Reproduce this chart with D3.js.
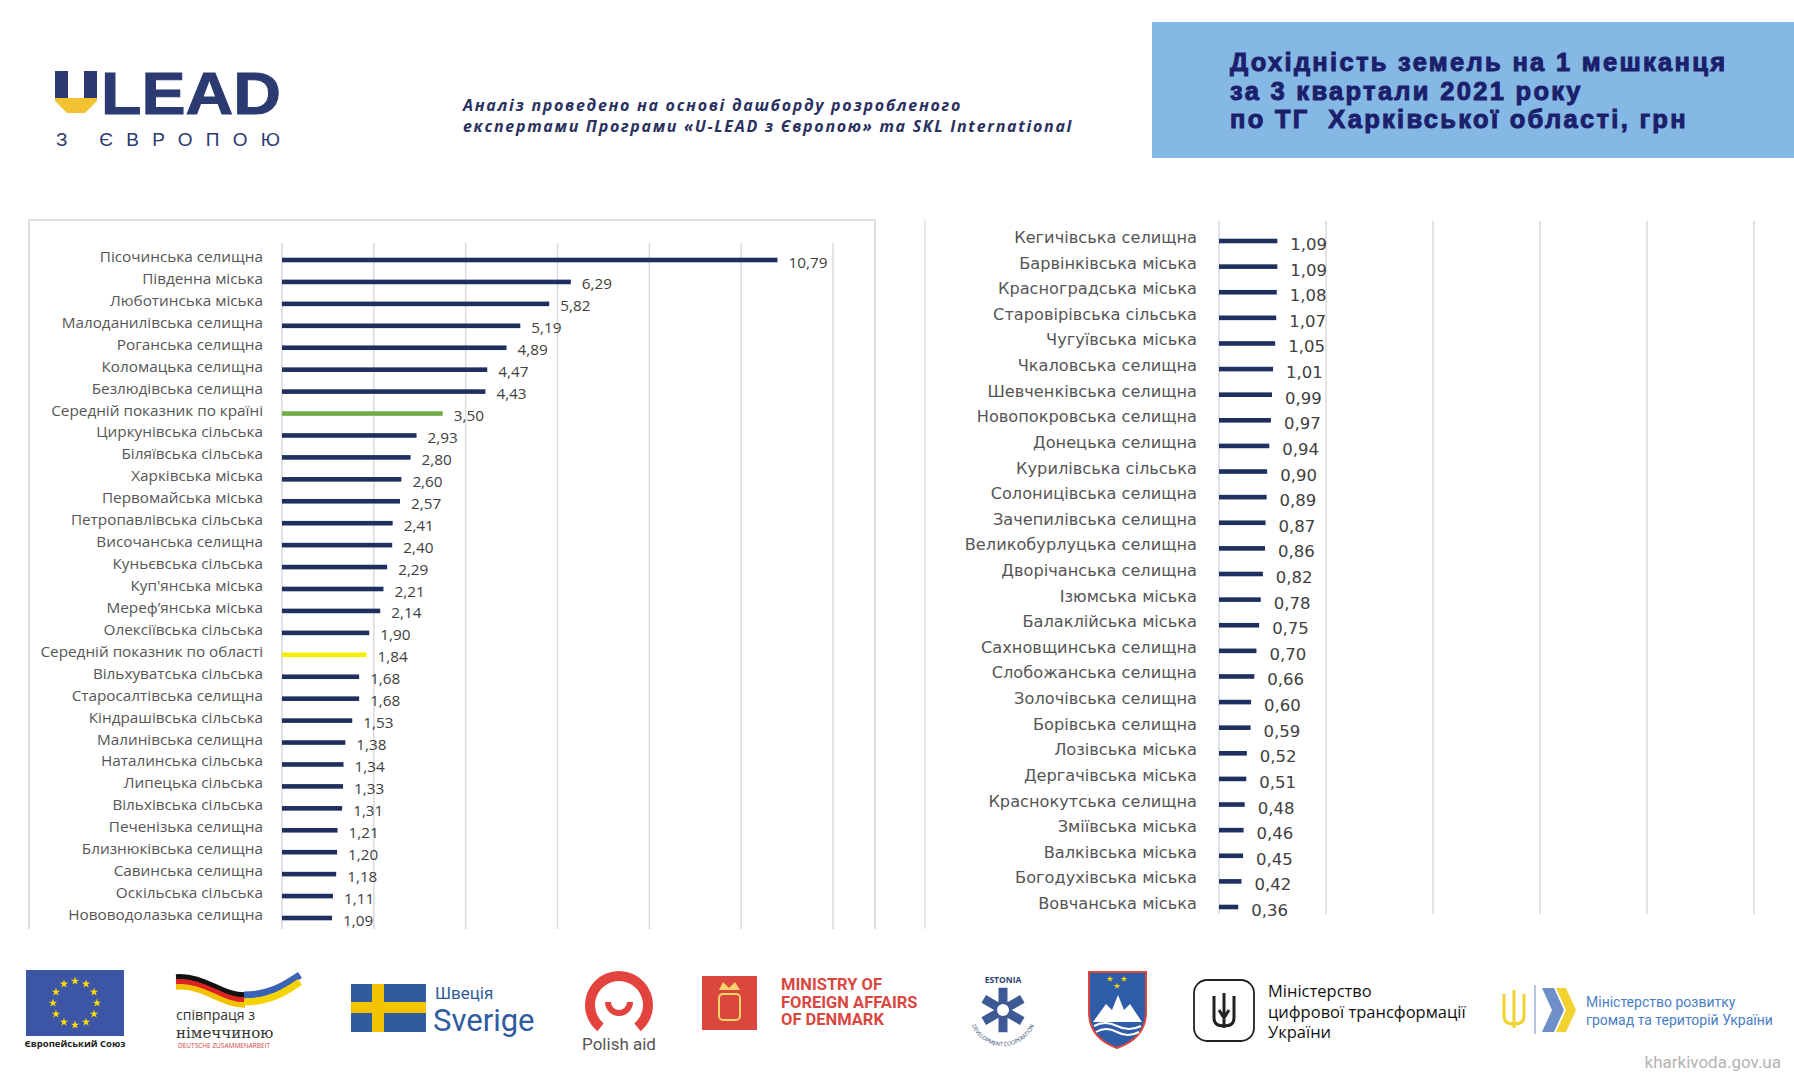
<!DOCTYPE html>
<html><head><meta charset="utf-8">
<script src="https://cdn.jsdelivr.net/npm/d3@7"></script>
<style>body{margin:0;background:#fff} svg{display:block}</style>
</head><body>
<svg id="c" width="1794" height="1080"></svg>
<script>
// ---------------- DATA ----------------
const leftCategories = [
  "Пісочинська селищна","Південна міська","Люботинська міська","Малоданилівська селищна",
  "Роганська селищна","Коломацька селищна","Безлюдівська селищна","Середній показник по країні",
  "Циркунівська сільська","Біляївська сільська","Харківська міська","Первомайська міська",
  "Петропавлівська сільська","Височанська селищна","Куньєвська сільська","Куп'янська міська",
  "Мереф’янська міська","Олексіївська сільська","Середній показник по області","Вільхуватська сільська",
  "Старосалтівська селищна","Кіндрашівська сільська","Малинівська селищна","Наталинська сільська",
  "Липецька сільська","Вільхівська сільська","Печенізька селищна","Близнюківська селищна",
  "Савинська селищна","Оскільська сільська","Нововодолазька селищна"
];
const leftValues = [10.79,6.29,5.82,5.19,4.89,4.47,4.43,3.50,2.93,2.80,2.60,2.57,2.41,2.40,2.29,2.21,2.14,1.90,1.84,1.68,1.68,1.53,1.38,1.34,1.33,1.31,1.21,1.20,1.18,1.11,1.09];

const rightCategories = [
  "Кегичівська селищна","Барвінківська міська","Красноградська міська","Старовірівська сільська",
  "Чугуївська міська","Чкаловська селищна","Шевченківська селищна","Новопокровська селищна",
  "Донецька селищна","Курилівська сільська","Солоницівська селищна","Зачепилівська селищна",
  "Великобурлуцька селищна","Дворічанська селищна","Ізюмська міська","Балаклійська міська",
  "Сахновщинська селищна","Слобожанська селищна","Золочівська селищна","Борівська селищна",
  "Лозівська міська","Дергачівська міська","Краснокутська селищна","Зміївська міська",
  "Валківська міська","Богодухівська міська","Вовчанська міська"
];
const rightValues = [1.09,1.09,1.08,1.07,1.05,1.01,0.99,0.97,0.94,0.90,0.89,0.87,0.86,0.82,0.78,0.75,0.70,0.66,0.60,0.59,0.52,0.51,0.48,0.46,0.45,0.42,0.36];

const leftTicks = [0,2,4,6,8,10,12];
const rightTicks = [0,2,4,6,8,10];
const highlightCategories = ["Середній показник по країні","Середній показник по області"];
const highlightColors = ["#70ad47","#f4ef00"];

const titleLines = ["Дохідність земель на 1 мешканця","за 3 квартали 2021 року","по ТГ  Харківської області, грн"];
const subtitleLines = ["Аналіз проведено на основі дашборду розробленого","експертами Програми «U-LEAD з Європою» та SKL International"];

// ---------------- DRAW ----------------
const svg = d3.select("#c");
const NAVY = "#1f2f5f";
const fmt = v => d3.format(".2f")(v).replace(".", ",");
const colorOf = c => { const i = highlightCategories.indexOf(c); return i >= 0 ? highlightColors[i] : NAVY; };

// Header: logo
const logo = svg.append("g");
logo.append("rect").attr("x",55).attr("y",71).attr("width",13).attr("height",27).attr("fill","#2b3a70");
logo.append("rect").attr("x",84).attr("y",71).attr("width",13).attr("height",27).attr("fill","#2b3a70");
logo.append("path").attr("d","M55,98 H97 V101 L85,113 H67 L55,101 Z").attr("fill","#f2c230");
logo.append("text").attr("x",101).attr("y",114).text("LEAD")
  .attr("font-family","Liberation Sans").attr("font-weight",700).attr("font-size",60)
  .attr("fill","#2b3a70").attr("stroke","#2b3a70").attr("stroke-width",1)
  .attr("textLength",180).attr("lengthAdjust","spacingAndGlyphs");
logo.append("text").attr("x",56).attr("y",146).text("З ЄВРОПОЮ")
  .attr("font-family","Liberation Sans").attr("font-weight",400).attr("font-size",19)
  .attr("fill","#2b3a70").attr("textLength",224).attr("lengthAdjust","spacing");

// subtitle
svg.append("g").selectAll("text").data(subtitleLines).join("text")
  .attr("x",463).attr("y",(d,i)=>111+i*21).text(d=>d)
  .attr("font-family","Open Sans").attr("font-style","italic").attr("font-weight",700)
  .attr("font-size",16).attr("letter-spacing",1.7).attr("fill","#2a3160");

// title box
svg.append("rect").attr("x",1152).attr("y",22).attr("width",642).attr("height",136).attr("fill","#85b8e4");
svg.append("g").selectAll("text").data(titleLines).join("text")
  .attr("x",1230).attr("y",(d,i)=>71+i*28.5).text(d=>d).attr("xml:space","preserve")
  .attr("font-family","Liberation Sans").attr("font-weight",700).attr("font-size",25.5)
  .attr("letter-spacing",2.3).attr("fill","#1c1f6b").attr("stroke","#1c1f6b").attr("stroke-width",1);

// ---------- Left chart ----------
const xL = d3.scaleLinear().domain([0,12]).range([282,833]);
const yL = d3.scalePoint().domain(leftCategories).range([260,918]);
svg.append("path").attr("d","M29,929 V220 H875 V929").attr("fill","none").attr("stroke","#dedede").attr("stroke-width",2);
const gL = svg.append("g");
gL.selectAll("line.grid").data(leftTicks).join("line").attr("class","grid")
  .attr("x1",d=>xL(d)).attr("x2",d=>xL(d)).attr("y1",243).attr("y2",929)
  .attr("stroke",d=>d===0?"#d4d9e4":"#dadada").attr("stroke-width",1.5);
const leftData = leftCategories.map((c,i)=>({c, v:leftValues[i]}));
gL.selectAll("rect.bar").data(leftData).join("rect").attr("class","bar")
  .attr("x",xL(0)).attr("y",d=>yL(d.c)-2.3).attr("width",d=>xL(d.v)-xL(0)).attr("height",4.6)
  .attr("fill",d=>colorOf(d.c));
gL.selectAll("text.lab").data(leftData).join("text").attr("class","lab")
  .attr("x",263).attr("y",d=>yL(d.c)+2).attr("text-anchor","end").text(d=>d.c)
  .attr("font-family","Open Sans").attr("font-size",15.3).attr("fill","#555555");
gL.selectAll("text.val").data(leftData).join("text").attr("class","val")
  .attr("x",d=>xL(d.v)+11).attr("y",d=>yL(d.c)+7.5).text(d=>fmt(d.v))
  .attr("font-family","Open Sans").attr("font-size",15.3).attr("fill","#404040");

// ---------- Right chart ----------
const xR = d3.scaleLinear().domain([0,10]).range([1219,1754]);
const yR = d3.scalePoint().domain(rightCategories).range([241,907]);
svg.append("line").attr("x1",925).attr("x2",925).attr("y1",220).attr("y2",929).attr("stroke","#e2e2e2").attr("stroke-width",1.5);
const gR = svg.append("g");
gR.selectAll("line.grid").data(rightTicks).join("line").attr("class","grid")
  .attr("x1",d=>xR(d)).attr("x2",d=>xR(d)).attr("y1",221).attr("y2",914)
  .attr("stroke",d=>d===0?"#d4d9e4":"#dadada").attr("stroke-width",1.5);
const rightData = rightCategories.map((c,i)=>({c, v:rightValues[i]}));
gR.selectAll("rect.bar").data(rightData).join("rect").attr("class","bar")
  .attr("x",xR(0)).attr("y",d=>yR(d.c)-2.3).attr("width",d=>xR(d.v)-xR(0)).attr("height",4.6)
  .attr("fill",NAVY);
gR.selectAll("text.lab").data(rightData).join("text").attr("class","lab")
  .attr("x",1197).attr("y",d=>yR(d.c)+2).attr("text-anchor","end").text(d=>d.c)
  .attr("font-family","DejaVu Sans").attr("font-size",16.2).attr("fill","#555555");
gR.selectAll("text.val").data(rightData).join("text").attr("class","val")
  .attr("x",d=>xR(d.v)+13).attr("y",d=>yR(d.c)+9).text(d=>fmt(d.v))
  .attr("font-family","DejaVu Sans").attr("font-size",16.5).attr("fill","#404040");

// ---------- Footer logos ----------
const f = svg.append("g");
// EU
f.append("rect").attr("x",26).attr("y",970).attr("width",98).attr("height",66).attr("fill","#3d55a5");
d3.range(12).forEach(i=>{
  const a = i/12*2*Math.PI;
  f.append("path").attr("d",d3.symbol(d3.symbolStar).size(22)())
   .attr("transform",`translate(${75+22*Math.sin(a)},${1003-22*Math.cos(a)})`).attr("fill","#ffdd00");
});
f.append("text").attr("x",75).attr("y",1047).attr("text-anchor","middle").text("Європейський Союз")
  .attr("font-family","Open Sans").attr("font-weight",700).attr("font-size",9.5).attr("fill","#222");
// Germany
[["#111",0],["#d22",5],["#f2c100",10]].forEach(([col,o])=>{
  f.append("path").attr("d",`M176,${977+o} C205,${975+o} 220,${995+o} 245,${995+o}`)
   .attr("fill","none").attr("stroke",col).attr("stroke-width",5.5);
});
[["#3a63b5",0],["#f5d300",7]].forEach(([col,o])=>{
  f.append("path").attr("d",`M244,${995+o} C270,${995+o} 285,${985+o} 300,${975+o}`)
   .attr("fill","none").attr("stroke",col).attr("stroke-width",7);
});
f.append("text").attr("x",176).attr("y",1020).text("співпраця з").attr("font-family","Open Sans").attr("font-size",14).attr("fill","#333");
f.append("text").attr("x",176).attr("y",1038).text("німеччиною").attr("font-family","DejaVu Serif").attr("font-size",15).attr("fill","#333");
f.append("text").attr("x",178).attr("y",1048).text("DEUTSCHE ZUSAMMENARBEIT").attr("font-family","Open Sans").attr("font-size",6.5).attr("fill","#c44");
// Sweden
f.append("rect").attr("x",351).attr("y",984).attr("width",75).attr("height",48).attr("fill","#2f5c9e");
f.append("rect").attr("x",372).attr("y",984).attr("width",12).attr("height",48).attr("fill","#f5c400");
f.append("rect").attr("x",351).attr("y",1002).attr("width",75).attr("height",11).attr("fill","#f5c400");
f.append("text").attr("x",435).attr("y",999).text("Швеція").attr("font-family","Roboto").attr("font-size",17).attr("fill","#2f5c9e");
f.append("text").attr("x",433).attr("y",1031).text("Sverige").attr("font-family","Roboto").attr("font-size",31).attr("fill","#2f5c9e");
// Polish aid
f.append("path").attr("d",d3.arc().innerRadius(24).outerRadius(34).startAngle(-2.45).endAngle(2.45)())
  .attr("transform","translate(619,1005)").attr("fill","#e2433d");
f.append("path").attr("d",d3.arc().innerRadius(8).outerRadius(14).startAngle(Math.PI/2).endAngle(3*Math.PI/2)())
  .attr("transform","translate(619,1002)").attr("fill","#e2433d");
f.append("text").attr("x",619).attr("y",1050).attr("text-anchor","middle").text("Polish aid")
  .attr("font-family","Roboto").attr("font-size",17).attr("fill","#555");
// Denmark
f.append("rect").attr("x",702).attr("y",976).attr("width",55).attr("height",54).attr("fill","#d9473f");
f.append("rect").attr("x",719).attr("y",994).attr("width",21).attr("height",26).attr("rx",4).attr("fill","none").attr("stroke","#f3d36a").attr("stroke-width",2);
f.append("path").attr("d","M719,990 L723,982 L729,988 L735,982 L740,990 Z").attr("fill","#f3d36a");
["MINISTRY OF","FOREIGN AFFAIRS","OF DENMARK"].forEach((t,i)=>{
  f.append("text").attr("x",781).attr("y",990+i*17.5).text(t).attr("font-family","Roboto").attr("font-weight",700)
   .attr("font-size",16.5).attr("fill","#d9473f");
});
// Estonia
f.append("path").attr("id","estArc").attr("d","M969,1012 A34,34 0 0 0 1037,1012").attr("fill","none");
f.append("text").attr("x",1003).attr("y",983).attr("text-anchor","middle").text("ESTONIA")
  .attr("font-family","Open Sans").attr("font-weight",700).attr("font-size",8.5).attr("fill","#2d3f70");
f.append("text").append("textPath").attr("href","#estArc").attr("startOffset","50%").attr("text-anchor","middle")
  .text("DEVELOPMENT COOPERATION").attr("font-family","Open Sans").attr("font-size",5.5).attr("fill","#2d3f70");
f.append("path").attr("d",d3.symbol(d3.symbolAsterisk).size(1400)()).attr("transform","translate(1003,1010)")
  .attr("fill","none").attr("stroke","#3e5a96").attr("stroke-width",9);
f.append("circle").attr("cx",1003).attr("cy",1010).attr("r",6).attr("fill","#fff");
// Slovenia
f.append("path").attr("d","M1089,972 H1146 V1012 Q1146,1038 1117,1048 Q1089,1038 1089,1012 Z")
  .attr("fill","#2f5ca8").attr("stroke","#d9473f").attr("stroke-width",2);
f.append("path").attr("d","M1093,1022 L1106,1004 L1112,1010 L1118,995 L1124,1010 L1130,1004 L1142,1022 Z").attr("fill","#fff");
f.append("path").attr("d","M1094,1026 Q1105,1020 1117,1026 T1141,1026 M1096,1032 Q1106,1026 1117,1032 T1139,1032").attr("fill","none").attr("stroke","#fff").attr("stroke-width",2);
[[1110,979],[1124,979],[1117,986]].forEach(([x,y])=>f.append("path").attr("d",d3.symbol(d3.symbolStar).size(14)()).attr("transform",`translate(${x},${y})`).attr("fill","#f5d300"));
// Digital transformation ministry
f.append("rect").attr("x",1194).attr("y",980).attr("width",60).attr("height",61).attr("rx",13).attr("fill","none").attr("stroke","#222").attr("stroke-width",1.8);
f.append("path").attr("d","M1224,993 L1224,1028 M1214,996 L1214,1018 Q1214,1026 1224,1026 Q1234,1026 1234,1018 L1234,996 M1219,1010 L1224,1018 L1229,1010")
  .attr("fill","none").attr("stroke","#222").attr("stroke-width",3);
["Міністерство","цифрової трансформації","України"].forEach((t,i)=>{
  f.append("text").attr("x",1268).attr("y",997+i*20.5).text(t).attr("font-family","Open Sans").attr("font-size",16.5).attr("fill","#111");
});
// Community development ministry
f.append("path").attr("d","M1514,990 L1514,1028 M1504,994 L1504,1016 Q1504,1024 1514,1024 Q1524,1024 1524,1016 L1524,994")
  .attr("fill","none").attr("stroke","#f2d22e").attr("stroke-width",3);
f.append("line").attr("x1",1535).attr("x2",1535).attr("y1",985).attr("y2",1034).attr("stroke","#9bb5d9").attr("stroke-width",1.5);
f.append("path").attr("d","M1542,988 L1554,988 L1564,1010 L1554,1032 L1542,1032 L1552,1010 Z").attr("fill","#6f8fc9");
f.append("path").attr("d","M1556,988 L1566,988 L1576,1010 L1566,1032 L1556,1032 L1566,1010 Z").attr("fill","#f2d22e");
f.append("text").attr("x",1586).attr("y",1007).text("Міністерство розвитку").attr("font-family","Roboto").attr("font-size",14).attr("fill","#4a80c4");
f.append("text").attr("x",1586).attr("y",1025).text("громад та територій України").attr("font-family","Roboto").attr("font-size",14).attr("fill","#4a80c4");
f.append("text").attr("x",1781).attr("y",1068).attr("text-anchor","end").text("kharkivoda.gov.ua")
  .attr("font-family","Roboto").attr("font-size",17).attr("fill","#b3b3b3");
</script>
</body></html>
